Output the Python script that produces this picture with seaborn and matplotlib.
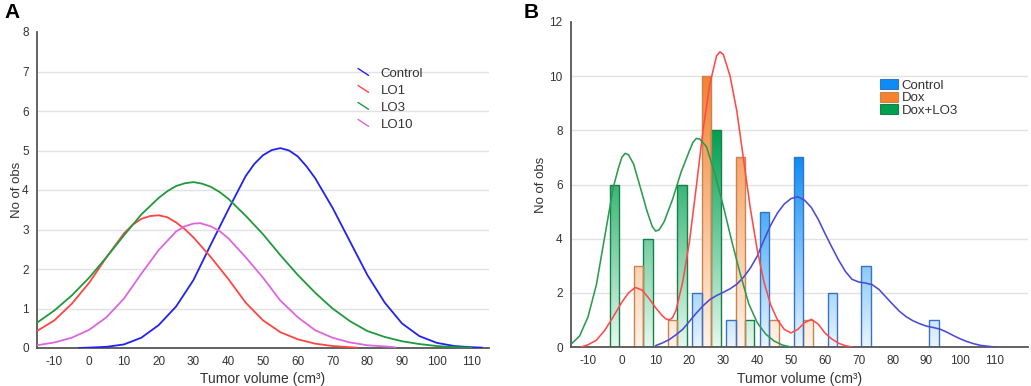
import numpy as np
import pandas as pd
import matplotlib
matplotlib.use("Agg")
import matplotlib.pyplot as plt
import seaborn as sns
from matplotlib.lines import Line2D
from matplotlib.patches import Patch
from matplotlib.legend_handler import HandlerBase
from matplotlib.colors import LinearSegmentedColormap, to_rgba

# ---------------- Panel A data (fitted curves) ----------------
a_control_x = [-3, 0, 5, 10, 15, 20, 25, 30, 35, 40, 45, 47.5, 50, 52.5, 55, 57.5, 60, 62.5, 65, 70, 75, 80, 85, 90,
               95, 100, 105, 110, 113]
a_control_y = [0.00, 0.01, 0.03, 0.09, 0.26, 0.58, 1.05, 1.72, 2.62, 3.50, 4.35, 4.66, 4.88, 5.01, 5.06, 5.00, 4.85,
               4.60, 4.30, 3.55, 2.70, 1.85, 1.15, 0.62, 0.30, 0.13, 0.05, 0.02, 0.01]

a_lo1_x = [-15, -10, -5, 0, 5, 10, 12.5, 15, 17.5, 20, 22.5, 25, 27.5, 30, 35, 40, 45, 50, 55, 60, 65, 70, 75, 77]
a_lo1_y = [0.43, 0.70, 1.12, 1.65, 2.30, 2.90, 3.12, 3.27, 3.34, 3.36, 3.31, 3.18, 3.01, 2.80, 2.30, 1.75, 1.15, 0.70,
           0.40, 0.22, 0.11, 0.05, 0.02, 0.01]

a_lo3_x = [-15, -10, -5, 0, 5, 10, 15, 20, 22.5, 25, 27.5, 30, 32.5, 35, 37.5, 40, 45, 50, 55, 60, 65, 70, 75, 80, 85,
           90, 95, 100, 105, 110]
a_lo3_y = [0.64, 0.95, 1.33, 1.78, 2.30, 2.85, 3.38, 3.80, 3.97, 4.10, 4.17, 4.20, 4.16, 4.08, 3.95, 3.78, 3.35, 2.88,
           2.35, 1.85, 1.40, 1.00, 0.68, 0.43, 0.28, 0.17, 0.10, 0.05, 0.02, 0.01]

a_lo10_x = [-15, -10, -5, 0, 5, 10, 15, 20, 25, 27.5, 30, 32, 35, 37.5, 40, 45, 50, 55, 60, 65, 70, 75, 80, 85, 88]
a_lo10_y = [0.07, 0.14, 0.26, 0.46, 0.78, 1.25, 1.88, 2.48, 2.95, 3.08, 3.15, 3.16, 3.08, 2.96, 2.78, 2.30, 1.78, 1.20,
            0.78, 0.45, 0.26, 0.14, 0.07, 0.04, 0.02]

a_groups = ["Control", "LO1", "LO3", "LO10"]
a_colors = ["#2222F0", "#FF4444", "#1E9A3C", "#DD66DD"]

# ---------------- Panel B data ----------------
b_groups = ["Control", "Dox", "Dox+LO3"]
bin_centers = [-5, 5, 15, 25, 35, 45, 55, 65, 75, 85, 95]
b_control_counts = [0, 0, 0, 2, 1, 5, 7, 2, 3, 0, 1]
b_dox_counts = [0, 3, 1, 10, 7, 1, 1, 0, 0, 0, 0]
b_doxlo3_counts = [6, 4, 6, 8, 1, 0, 0, 0, 0, 0, 0]

b_control_kx = [10, 12, 14, 16, 18, 20, 22, 24, 26, 28, 30, 32, 34, 36, 38, 40, 42, 44, 46, 48, 50, 52, 54, 56, 58, 60,
                62, 64, 66, 68, 70, 72, 74, 76, 78, 80, 82, 84, 86, 88, 90, 92, 94, 96, 98, 100, 102, 104, 106, 108, 110]
b_control_ky = [0.05, 0.15, 0.27, 0.45, 0.65, 0.95, 1.25, 1.52, 1.75, 1.90, 2.02, 2.15, 2.32, 2.58, 2.92, 3.35, 3.95, 4.50,
                4.95, 5.28, 5.48, 5.55, 5.42, 5.15, 4.72, 4.20, 3.70, 3.22, 2.80, 2.50, 2.40, 2.36, 2.30, 2.12, 1.85, 1.58,
                1.32, 1.12, 0.97, 0.86, 0.77, 0.72, 0.66, 0.55, 0.42, 0.30, 0.20, 0.12, 0.06, 0.03, 0.00]

b_dox_kx = [-12, -10, -7.5, -5, -2.5, 0, 2, 4, 6, 8, 10, 12, 13, 14, 15, 16, 18, 20, 22, 24, 26, 28, 29, 30, 32, 34, 36,
            38, 40, 42, 44, 46, 48, 50, 52, 54, 56, 58, 60, 62, 64, 66, 68]
b_dox_ky = [0.00, 0.08, 0.25, 0.62, 1.12, 1.65, 2.00, 2.20, 2.10, 1.80, 1.45, 1.15, 1.04, 1.00, 1.08, 1.35, 2.40, 3.90,
            5.90, 8.00, 9.70, 10.75, 10.90, 10.80, 10.00, 8.70, 6.90, 5.10, 3.60, 2.40, 1.55, 1.00, 0.65, 0.52, 0.65,
            0.90, 1.02, 0.85, 0.52, 0.30, 0.14, 0.05, 0.00]

b_doxlo3_kx = [-15, -12.5, -10, -7.5, -5, -2.5, -1, 0, 1, 2, 3.5, 5, 7.5, 9, 10, 11, 12.5, 15, 17.5, 20, 21, 22, 23, 25,
               27.5, 30, 32.5, 35, 37.5, 40, 42.5, 45, 47.5, 50]
b_doxlo3_ky = [0.10, 0.40, 1.10, 2.30, 4.10, 5.90, 6.60, 7.00, 7.15, 7.10, 6.75, 6.10, 5.00, 4.45, 4.28, 4.32, 4.62,
               5.45, 6.45, 7.25, 7.55, 7.70, 7.68, 7.40, 6.40, 5.20, 3.90, 2.70, 1.60, 0.90, 0.48, 0.22, 0.07, 0.00]

b_line_colors = ["#4A4AD8", "#FF4A4A", "#2E9A50"]
b_bar_top = ["#0A8EF5", "#F5822E", "#00A050"]
b_bar_bottom = ["#EAF5FF", "#FFF3EA", "#E6F8EE"]
b_bar_edge = ["#3A72C4", "#C8844E", "#16804A"]

sns.set_style("white")
plt.rcParams["font.family"] = ["Liberation Sans", "DejaVu Sans"]
plt.rcParams["axes.unicode_minus"] = False
TXT = "#333333"

fig = plt.figure(figsize=(10.31, 3.86), dpi=100)
W, H = 1031, 386
axA = fig.add_axes([37 / W, 1 - 348 / H, 452 / W, 316 / H])
axB = fig.add_axes([571 / W, 1 - 347 / H, 457 / W, 325 / H])


def style_axes(ax):
    for s in ["top", "right"]:
        ax.spines[s].set_visible(False)
    for s in ["left", "bottom"]:
        ax.spines[s].set_color("#555555")
        ax.spines[s].set_linewidth(1.3)
    ax.tick_params(axis="both", direction="in", length=2.5, width=0.8, colors="#555555",
                   labelcolor=TXT, labelsize=8.5)
    ax.tick_params(axis="x", pad=6)
    ax.tick_params(axis="y", pad=6)


# ---------------- Panel A ----------------
dfA = pd.concat([
    pd.DataFrame({"x": xs, "y": ys, "group": g})
    for g, xs, ys in zip(a_groups,
                         [a_control_x, a_lo1_x, a_lo3_x, a_lo10_x],
                         [a_control_y, a_lo1_y, a_lo3_y, a_lo10_y])
])
sns.lineplot(data=dfA, x="x", y="y", hue="group", hue_order=a_groups, palette=a_colors,
             estimator=None, linewidth=1.3, legend=False, ax=axA, zorder=3)
axA.set_xlim(-15, 115)
axA.set_ylim(0, 8)
axA.set_xticks(range(-10, 111, 10))
axA.set_yticks(range(0, 9))
style_axes(axA)
for v in range(1, 8):
    axA.axhline(v, color="#E2E2E2", lw=1.0, zorder=0)
axA.set_xlabel("Tumor volume (cm\u00b3)", fontsize=10, color=TXT, labelpad=3)
axA.set_ylabel("No of obs", fontsize=9.5, color=TXT, labelpad=-1)


class DiagHandler(HandlerBase):
    def create_artists(self, legend, orig_handle, xdescent, ydescent, width, height, fontsize, trans):
        x0, y0 = -xdescent, -ydescent
        ln = Line2D([x0 + 0.0 * width, x0 + 0.8 * width], [y0 + height * 0.95, y0 + height * 0.2],
                    color=orig_handle.get_color(), lw=1.0, transform=trans)
        return [ln]


handlesA = [Line2D([], [], color=c) for c in a_colors]
legA = axA.legend(handlesA, a_groups, handler_map={Line2D: DiagHandler()}, frameon=False,
                  loc="upper left", bbox_to_anchor=(358 / W, 1 - 68 / H), bbox_transform=fig.transFigure,
                  fontsize=9.5, handlelength=1.0, handletextpad=0.7, labelspacing=0.36, borderpad=0,
                  borderaxespad=0)
for t in legA.get_texts():
    t.set_color(TXT)

# ---------------- Panel B ----------------
dfB = pd.concat([
    pd.DataFrame({"volume": bin_centers, "count": cnt, "group": g})
    for g, cnt in zip(b_groups, [b_control_counts, b_dox_counts, b_doxlo3_counts])
])
sns.histplot(data=dfB, x="volume", weights="count", hue="group", hue_order=b_groups,
             palette=b_bar_top, multiple="dodge", binwidth=10, binrange=(-10, 100), shrink=0.84,
             legend=False, ax=axB, alpha=1, linewidth=1.0)

series_max = {0: max(b_control_counts), 1: max(b_dox_counts), 2: max(b_doxlo3_counts)}
top_rgba = [to_rgba(c) for c in b_bar_top]
for p in list(axB.patches):
    fc = p.get_facecolor()
    idx = int(np.argmin([sum((a - b) ** 2 for a, b in zip(fc[:3], t[:3])) for t in top_rgba]))
    h = p.get_height()
    if h <= 0:
        p.set_visible(False)
        continue
    cmap = LinearSegmentedColormap.from_list("g%d" % idx, [b_bar_bottom[idx], b_bar_top[idx]])
    x0 = p.get_x()
    w = p.get_width()
    grad = np.linspace(0, 1, 256).reshape(-1, 1)
    im = axB.imshow(grad, cmap=cmap, origin="lower", aspect="auto",
                    extent=[x0, x0 + w, 0, series_max[idx]], zorder=1, interpolation="bilinear")
    im.set_clip_path(p)
    p.set_facecolor("none")
    p.set_edgecolor(b_bar_edge[idx])
    p.set_linewidth(1.0)
    p.set_zorder(2)

dfK = pd.concat([
    pd.DataFrame({"x": xs, "y": ys, "group": g})
    for g, xs, ys in zip(b_groups,
                         [b_control_kx, b_dox_kx, b_doxlo3_kx],
                         [b_control_ky, b_dox_ky, b_doxlo3_ky])
])
sns.lineplot(data=dfK, x="x", y="y", hue="group", hue_order=b_groups, palette=b_line_colors,
             estimator=None, linewidth=1.15, legend=False, ax=axB, zorder=3)

axB.set_xlim(-15, 120)
axB.set_ylim(0, 12)
axB.set_xticks(range(-10, 111, 10))
axB.set_yticks(range(0, 13, 2))
style_axes(axB)
for v in range(2, 12, 2):
    axB.axhline(v, color="#E2E2E2", lw=1.0, zorder=0)
axB.set_xlabel("Tumor volume (cm\u00b3)", fontsize=10, color=TXT, labelpad=3)
axB.set_ylabel("No of obs", fontsize=9.5, color=TXT, labelpad=2)

handlesB = [Patch(facecolor=b_bar_top[i], edgecolor=b_bar_edge[i], linewidth=0.8) for i in range(3)]
legB = axB.legend(handlesB, b_groups, frameon=False, loc="upper left",
                  bbox_to_anchor=(880 / W, 1 - 79 / H), bbox_transform=fig.transFigure,
                  fontsize=9.5, handlelength=1.35, handleheight=0.8, handletextpad=0.3,
                  labelspacing=0.0, borderpad=0, borderaxespad=0)
for t in legB.get_texts():
    t.set_color(TXT)

fig.text(4 / W, 1 - 3 / H, "A", fontsize=15, fontweight="bold", va="top", ha="left", color="black")
fig.text(524 / W, 1 - 3 / H, "B", fontsize=15, fontweight="bold", va="top", ha="left", color="black")

fig.savefig("out.png", dpi=100)
